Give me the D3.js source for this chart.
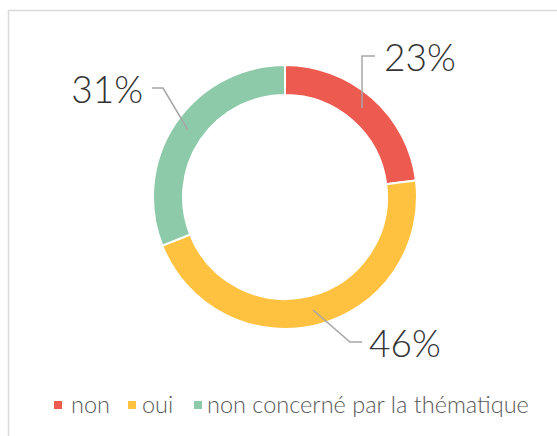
<!DOCTYPE html>
<html><head><meta charset="utf-8">
<script src="https://cdn.jsdelivr.net/npm/d3@7"></script>
<style>body{margin:0;background:#fff}svg{display:block}</style>
</head><body>
<svg id="c" width="557" height="436"></svg>
<script>
const categories = ["non", "oui", "non concerné par la thématique"];
const values = [23, 46, 31];
const labels = ["23%", "46%", "31%"];
const colors = ["#EC5A50", "#FEC240", "#8DCAA9"];

const svg = d3.select("#c");
svg.append("rect").attr("x", 8.5).attr("y", 10.5).attr("width", 600).attr("height", 500)
  .attr("fill", "none").attr("stroke", "#D9D9D9").attr("stroke-width", 1.5);

const cx = 285, cy = 197, R = 132, r = 102;
const g = svg.append("g").attr("transform", `translate(${cx},${cy})`);
const pie = d3.pie().sort(null).value(d => d)(values);
const arc = d3.arc().innerRadius(r).outerRadius(R);
g.selectAll("path").data(pie).join("path")
  .attr("d", arc).attr("fill", (d, i) => colors[i])
  .attr("stroke", "#fff").attr("stroke-width", 2);

const leaders = [
  [[362 - cx, 108 - cy], [362 - cx, 56 - cy], [375 - cx, 56 - cy]],
  [[313 - cx, 310 - cy], [350 - cx, 342 - cy], [362 - cx, 342 - cy]],
  [[188 - cx, 130 - cy], [163 - cx, 88 - cy], [152 - cx, 88 - cy]]
];
const textPos = [[384 - cx, 71 - cy, "start"], [369 - cx, 357 - cy, "start"], [143 - cx, 103 - cy, "end"]];
g.selectAll("polyline").data(pie).join("polyline")
  .attr("points", (d, i) => leaders[i].map(p => p.join(",")).join(" "))
  .attr("fill", "none").attr("stroke", "#A6A6A6").attr("stroke-width", 1.5);
g.selectAll("text.lbl").data(pie).join("text").attr("class", "lbl")
  .attr("x", (d, i) => textPos[i][0]).attr("y", (d, i) => textPos[i][1])
  .attr("text-anchor", (d, i) => textPos[i][2])
  .attr("font-family", "Lato").attr("font-weight", 300).attr("font-size", 37)
  .attr("fill", "#333333").text((d, i) => labels[i]);

// legend
const sqX = [54, 128, 194];
const txX = [71, 142, 207];
const lg = svg.append("g");
categories.forEach((c, i) => {
  lg.append("rect").attr("x", sqX[i]).attr("y", 401).attr("width", 8).attr("height", 8).attr("fill", colors[i]);
  lg.append("text").attr("x", txX[i]).attr("y", 413)
    .attr("font-family", "Lato").attr("font-weight", 300).attr("font-size", 23.5).attr("fill", "#595959").text(c);
});
</script>
</body></html>
